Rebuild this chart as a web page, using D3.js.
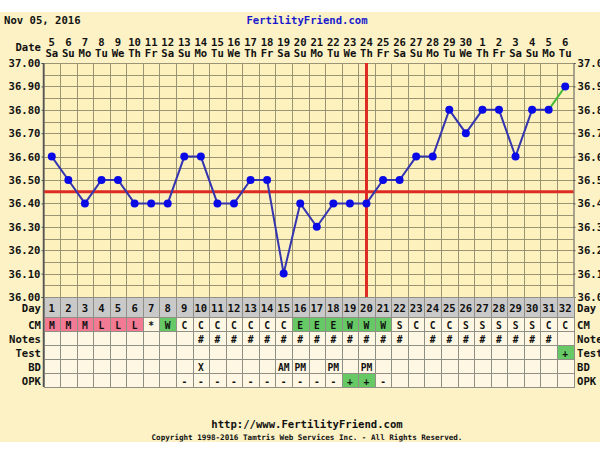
<!DOCTYPE html>
<html>
<head>
<meta charset="utf-8">
<script src="https://cdn.jsdelivr.net/npm/d3@7"></script>
<style>
  body { margin: 0; background: #fff; }
  svg { display: block; }
  text { font-family: "DejaVu Sans Mono", monospace; font-weight: bold; fill: #111; }
</style>
</head>
<body>
<svg id="chart" width="600" height="449"></svg>
<script>

// chart data
var cycleDays = d3.range(1, 33);
var dates = [5,6,7,8,9,10,11,12,13,14,15,16,17,18,19,20,21,22,23,24,25,26,27,28,29,30,1,2,3,4,5,6];
var weekdays = ["Sa","Su","Mo","Tu","We","Th","Fr","Sa","Su","Mo","Tu","We","Th","Fr","Sa","Su",
                "Mo","Tu","We","Th","Fr","Sa","Su","Mo","Tu","We","Th","Fr","Sa","Su","Mo","Tu"];
var temps = [36.60,36.50,36.40,36.50,36.50,36.40,36.40,36.40,36.60,36.60,36.40,36.40,36.50,36.50,36.10,36.40,
             36.30,36.40,36.40,36.40,36.50,36.50,36.60,36.60,36.80,36.70,36.80,36.80,36.60,36.80,36.80,36.90];
var tempTicks = [36.00,36.10,36.20,36.30,36.40,36.50,36.60,36.70,36.80,36.90,37.00];
var coverline = 36.45;
var ovulationDay = 20;
var cm    = ["M","M","M","L","L","L","*","W","C","C","C","C","C","C","C","E","E","E","W","W","W","S","C","C","C","S","S","S","S","S","C","C"];
var notes = ["","","","","","","","","","#","#","#","#","#","#","#","#","#","#","#","#","#","","#","#","#","#","#","#","#","#",""];
var test  = ["","","","","","","","","","","","","","","","","","","","","","","","","","","","","","","","+"];
var bd    = ["","","","","","","","","","X","","","","","AM","PM","","PM","","PM","","","","","","","","","","","",""];
var opk   = ["","","","","","","","","-","-","-","-","-","-","-","-","-","-","+","+","-","","","","","","","","","","",""];

var svg = d3.select("#chart");

var plot = {left: 43.5, right: 573.5, top: 63, bottom: 297};

var x = d3.scaleBand().domain(cycleDays).range([plot.left, plot.right]);
var y = d3.scaleLinear().domain([36, 37]).range([plot.bottom, plot.top]);
var cx = function(d) { return x(d) + x.bandwidth() / 2; };

// backgrounds
svg.append("rect").attr("x", 0).attr("y", 12).attr("width", 600).attr("height", 430).attr("fill", "#fcf2c6");
svg.append("rect").attr("x", plot.left).attr("y", plot.top)
    .attr("width", plot.right - plot.left).attr("height", plot.bottom - plot.top)
    .attr("fill", "#fdf2bd");

// header
svg.append("text").attr("x", 4).attr("y", 24).style("font-size", "10.6px").text("Nov 05, 2016");
svg.append("text").attr("x", 307).attr("y", 24).attr("text-anchor", "middle")
    .style("font-size", "10.6px").style("fill", "#1a1acc").text("FertilityFriend.com");

svg.append("text").attr("x", 41).attr("y", 51).attr("text-anchor", "end").style("font-size", "10.6px").text("Date");

svg.append("g").selectAll("text").data(cycleDays).enter().append("text")
    .attr("x", cx).attr("y", 46).attr("text-anchor", "middle").style("font-size", "10.6px")
    .text(function(d, i) { return dates[i]; });
svg.append("g").selectAll("text").data(cycleDays).enter().append("text")
    .attr("x", cx).attr("y", 57).attr("text-anchor", "middle").style("font-size", "10.6px")
    .text(function(d, i) { return weekdays[i]; });

// grid
var grid = svg.append("g").attr("stroke", "#9b9474").attr("stroke-width", 1);
grid.selectAll(".h").data(y.ticks(20)).enter().append("line")
    .attr("x1", plot.left).attr("x2", plot.right)
    .attr("y1", function(d) { return Math.round(y(d)) + 0.5; })
    .attr("y2", function(d) { return Math.round(y(d)) + 0.5; });
grid.selectAll(".v").data(cycleDays.slice(1)).enter().append("line")
    .attr("y1", plot.top).attr("y2", plot.bottom)
    .attr("x1", function(d) { return Math.round(x(d)) + 0.5; })
    .attr("x2", function(d) { return Math.round(x(d)) + 0.5; });

// axes
var fmt = d3.format(".2f");
var yLeft = svg.append("g").attr("transform", "translate(" + plot.left + ",0)")
    .call(d3.axisLeft(y).tickValues(tempTicks).tickFormat(fmt).tickSize(2).tickPadding(1));
var yRight = svg.append("g").attr("transform", "translate(" + plot.right + ",0)")
    .call(d3.axisRight(y).tickValues(tempTicks).tickFormat(fmt).tickSize(2).tickPadding(2));
[yLeft, yRight].forEach(function(a) {
  a.selectAll("text").style("font-size", "10.6px").style("font-family", "DejaVu Sans Mono")
      .style("font-weight", "bold").attr("fill", "#111");
  a.selectAll("line").attr("stroke", "#555");
  a.select(".domain").attr("stroke", "#555");
});

// coverline and ovulation line
svg.append("line").attr("x1", plot.left).attr("x2", plot.right)
    .attr("y1", y(coverline)).attr("y2", y(coverline))
    .attr("stroke", "#dd2a22").attr("stroke-width", 3);
svg.append("line").attr("x1", cx(ovulationDay)).attr("x2", cx(ovulationDay))
    .attr("y1", plot.top).attr("y2", plot.bottom)
    .attr("stroke", "#dd2a22").attr("stroke-width", 3);

// temperature line
var pts = cycleDays.map(function(d, i) { return [cx(d), y(temps[i])]; });
var line = d3.line();
svg.append("path").datum(pts.slice(0, 31)).attr("d", line)
    .attr("fill", "none").attr("stroke", "#3535b0").attr("stroke-width", 2);
svg.append("path").datum(pts.slice(30)).attr("d", line)
    .attr("fill", "none").attr("stroke", "#44bb33").attr("stroke-width", 2);
svg.append("g").selectAll("circle").data(pts).enter().append("circle")
    .attr("cx", function(d) { return d[0]; }).attr("cy", function(d) { return d[1]; })
    .attr("r", 4).attr("fill", "#0a0ae6");

// table below
var rows = [
  {name: "Day",   vals: cycleDays, h: 20},
  {name: "CM",    vals: cm,    h: 14},
  {name: "Notes", vals: notes, h: 14},
  {name: "Test",  vals: test,  h: 14},
  {name: "BD",    vals: bd,    h: 14},
  {name: "OPK",   vals: opk,   h: 14}
];

function cellFill(row, v) {
  if (row === "Day") return "#c9c9c9";
  if (row === "CM" && (v === "M" || v === "L")) return "#f27a93";
  if (row === "CM" && (v === "W" || v === "E")) return "#66c966";
  if ((row === "Test" || row === "OPK") && v === "+") return "#66c966";
  return "#fdf7e3";
}

var ry = plot.bottom;
rows.forEach(function(r) {
  var g = svg.append("g").attr("transform", "translate(0," + ry + ")");
  var cell = g.selectAll("g").data(cycleDays).enter().append("g");
  cell.append("rect")
      .attr("x", function(d) { return Math.round(x(d)) + 0.5; })
      .attr("y", 0.5)
      .attr("width", function(d) { return Math.round(x(d) + x.bandwidth()) - Math.round(x(d)); })
      .attr("height", r.h)
      .attr("fill", function(d, i) { return cellFill(r.name, r.vals[i]); })
      .attr("stroke", "#8f8f86").attr("stroke-width", 1);
  cell.append("text")
      .attr("x", cx).attr("y", r.h / 2 + 4.5)
      .attr("text-anchor", "middle")
      .style("font-size", r.name === "Day" ? "10.6px" : "9.6px")
      .text(function(d, i) { return r.vals[i]; });
  g.append("text").attr("x", 41).attr("y", r.h / 2 + 4.5).attr("text-anchor", "end")
      .style("font-size", "10.6px").text(r.name);
  g.append("text").attr("x", 577).attr("y", r.h / 2 + 4.5)
      .style("font-size", "10.6px").text(r.name);
  ry += r.h;
});

svg.append("line").attr("x1", plot.left).attr("x2", plot.left).attr("y1", plot.top).attr("y2", ry)
    .attr("stroke", "#555").attr("stroke-width", 1.5);

// footer
svg.append("text").attr("x", 307).attr("y", 428).attr("text-anchor", "middle")
    .style("font-size", "10.6px").text("http://www.FertilityFriend.com");
svg.append("text").attr("x", 307).attr("y", 440).attr("text-anchor", "middle")
    .style("font-size", "7.6px").text("Copyright 1998-2016 Tamtris Web Services Inc. - All Rights Reserved.");

</script>
</body>
</html>
